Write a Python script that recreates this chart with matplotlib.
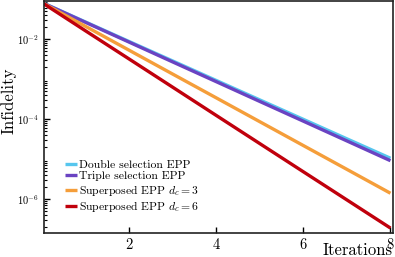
import numpy as np
import matplotlib
matplotlib.use("Agg")
import matplotlib.pyplot as plt

plt.rcParams['font.family'] = 'serif'
plt.rcParams['font.serif'] = ['cmr10', 'DejaVu Serif']
plt.rcParams['mathtext.fontset'] = 'cm'
plt.rcParams['axes.unicode_minus'] = False
plt.rcParams['axes.formatter.use_mathtext'] = True

# infidelity after each purification iteration
iterations = [0, 1, 2, 3, 4, 5, 6, 7, 8]
double_sel = [8.0e-2, 2.62e-2, 8.55e-3, 2.80e-3, 9.14e-4, 2.99e-4, 9.79e-5, 3.20e-5, 1.05e-5]
triple_sel = [8.0e-2, 2.57e-2, 8.26e-3, 2.65e-3, 8.53e-4, 2.74e-4, 8.83e-5, 2.84e-5, 9.12e-6]
superposed_d3 = [8.0e-2, 2.04e-2, 5.19e-3, 1.32e-3, 3.37e-4, 8.57e-5, 2.18e-5, 5.55e-6, 1.41e-6]
superposed_d6 = [8.0e-2, 1.58e-2, 3.14e-3, 6.22e-4, 1.23e-4, 2.44e-5, 4.84e-6, 9.62e-7, 1.91e-7]

labels = ['Double selection EPP', 'Triple selection EPP',
          r'Superposed EPP $d_c = 3$', r'Superposed EPP $d_c = 6$']
colors = ['#56c6ee', '#6a43c2', '#f59e3a', '#c0000c']

fig = plt.figure(figsize=(3.95, 2.57), dpi=100)
ax = fig.add_axes([0.1114, 0.0953, 0.8826, 0.9007])

for ys, lab, c in zip([double_sel, triple_sel, superposed_d3, superposed_d6], labels, colors):
    ax.plot(iterations, ys, color=c, lw=2.4, label=lab, solid_capstyle='butt')

ax.set_yscale('log')
ax.set_xlim(0.05, 8.05)
ax.set_ylim(1.48e-7, 8.7e-2)
ax.set_xticks([2, 4, 6, 8])
ax.set_yticks([1e-2, 1e-4, 1e-6])

ax.tick_params(which='both', direction='in', top=False, right=False)
ax.tick_params(axis='x', labelsize=10.5, pad=3)
ax.tick_params(axis='y', labelsize=7.5, pad=4)
ax.tick_params(which='major', length=4, width=1)
ax.tick_params(which='minor', length=2.5, width=0.8)
for s in ax.spines.values():
    s.set_linewidth(1.2)
    s.set_color('#222222')

ax.set_ylabel('Infidelity', fontsize=12)
ax.yaxis.set_label_coords(-0.08, 0.57)
ax.set_xlabel('Iterations', fontsize=12, loc='right')
ax.xaxis.set_label_coords(1.0, -0.045)

ax.legend(loc='lower left', bbox_to_anchor=(0.06, 0.08), frameon=False,
          fontsize=8.4, handlelength=1.0, handletextpad=0.2,
          labelspacing=0.12, borderaxespad=0, borderpad=0)

fig.savefig('out.png', dpi=100)
